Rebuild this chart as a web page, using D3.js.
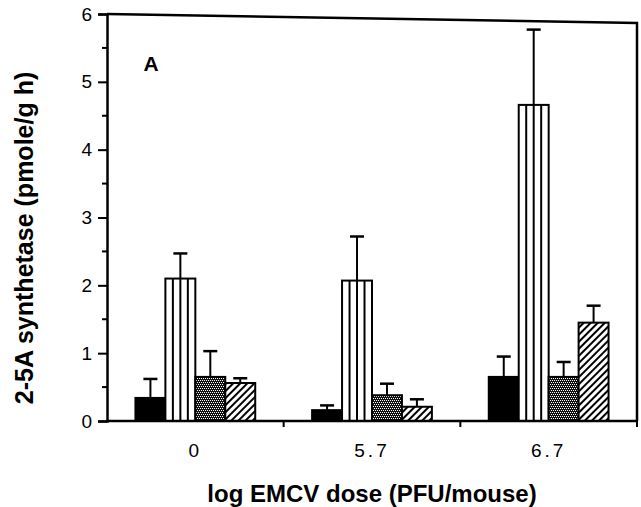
<!DOCTYPE html>
<html>
<head>
<meta charset="utf-8">
<script src="https://d3js.org/d3.v7.min.js"></script>
<style>
    body { margin: 0; background: #fff; }
    text { font-family: "Liberation Sans", Arial, Helvetica, sans-serif; fill: #000; }
</style>
</head>
<body>
<div id="chart"></div>
<script>
// Data (panel A)
var doses = ["0", "5.7", "6.7"];
var series = ["black", "vertical", "dotted", "hatched"];
var means = {
    black:    [0.34, 0.16, 0.65],
    vertical: [2.10, 2.07, 4.66],
    dotted:   [0.65, 0.38, 0.65],
    hatched:  [0.56, 0.21, 1.45]
};
var errTops = {
    black:    [0.62, 0.23, 0.95],
    vertical: [2.47, 2.72, 5.77],
    dotted:   [1.03, 0.55, 0.87],
    hatched:  [0.63, 0.32, 1.70]
};
var yTicks = [0, 1, 2, 3, 4, 5, 6];
var yMinorTicks = [0.5, 1.5, 2.5, 3.5, 4.5, 5.5];

var width = 641, height = 507;
var margin = {top: 14, right: 4, bottom: 86, left: 107};

var svg = d3.select("#chart").append("svg")
    .attr("width", width)
    .attr("height", height);

// Fill patterns
var defs = svg.append("defs");

var dots = defs.append("pattern")
    .attr("id", "dots")
    .attr("patternUnits", "userSpaceOnUse")
    .attr("width", 4).attr("height", 4);
dots.append("rect").attr("width", 4).attr("height", 4).attr("fill", "#111");
[[0, 0], [2, 0], [1, 2], [3, 2]].forEach(function(p) {
    dots.append("rect").attr("x", p[0]).attr("y", p[1])
        .attr("width", 1).attr("height", 1).attr("fill", "#fff");
});

var hatch = defs.append("pattern")
    .attr("id", "hatch")
    .attr("patternUnits", "userSpaceOnUse")
    .attr("width", 5).attr("height", 5)
    .attr("patternTransform", "rotate(45)");
hatch.append("rect").attr("width", 5).attr("height", 5).attr("fill", "#fff");
hatch.append("line")
    .attr("x1", 1).attr("y1", 0).attr("x2", 1).attr("y2", 5)
    .attr("stroke", "#000").attr("stroke-width", 2);

var fills = {black: "#000", vertical: "#fff", dotted: "url(#dots)", hatched: "url(#hatch)"};

// Scales
var x0 = d3.scaleBand()
    .domain(doses)
    .range([margin.left, width - margin.right]);

var x1 = d3.scaleBand()
    .domain(series)
    .range([0, x0.bandwidth()])
    .paddingInner(0)
    .paddingOuter(0.95);

var y = d3.scaleLinear()
    .domain([0, 6])
    .range([height - margin.bottom, margin.top]);

// Flatten to one record per bar
var bars = [];
doses.forEach(function(d, i) {
    series.forEach(function(s) {
        bars.push({dose: d, key: s, v: means[s][i], e: errTops[s][i]});
    });
});

function barMid(d) { return x0(d.dose) + x1(d.key) + x1.bandwidth() / 2; }

// Error bars (drawn first so the bar outline sits on top)
var capW = 14;
var err = svg.append("g").attr("stroke", "#000");
err.selectAll("line.stem")
    .data(bars)
    .enter().append("line")
    .attr("class", "stem")
    .attr("x1", barMid)
    .attr("x2", barMid)
    .attr("y1", function(d) { return y(d.v); })
    .attr("y2", function(d) { return y(d.e); })
    .attr("stroke-width", 2);
err.selectAll("line.cap")
    .data(bars)
    .enter().append("line")
    .attr("class", "cap")
    .attr("x1", function(d) { return barMid(d) - capW / 2; })
    .attr("x2", function(d) { return barMid(d) + capW / 2; })
    .attr("y1", function(d) { return y(d.e); })
    .attr("y2", function(d) { return y(d.e); })
    .attr("stroke-width", 2.5);

// Bars
svg.append("g").selectAll("rect")
    .data(bars)
    .enter().append("rect")
    .attr("x", function(d) { return x0(d.dose) + x1(d.key); })
    .attr("y", function(d) { return y(d.v); })
    .attr("width", x1.bandwidth())
    .attr("height", function(d) { return y(0) - y(d.v); })
    .attr("fill", function(d) { return fills[d.key]; })
    .attr("stroke", "#000")
    .attr("stroke-width", 2);

// Internal lines of the vertically striped bars
var stripes = [];
bars.filter(function(d) { return d.key === "vertical"; }).forEach(function(d) {
    [1, 2, 3].forEach(function(k) { stripes.push({bar: d, k: k}); });
});
svg.append("g").selectAll("line")
    .data(stripes)
    .enter().append("line")
    .attr("x1", function(s) { return x0(s.bar.dose) + x1(s.bar.key) + x1.bandwidth() * s.k / 4; })
    .attr("x2", function(s) { return x0(s.bar.dose) + x1(s.bar.key) + x1.bandwidth() * s.k / 4; })
    .attr("y1", function(s) { return y(s.bar.v); })
    .attr("y2", y(0))
    .attr("stroke", "#000")
    .attr("stroke-width", 2);

// Frame: top and right sides (top edge slightly skewed as in the scan)
var xL = x0.range()[0], xR = x0.range()[1];
svg.append("path")
    .attr("d", "M" + xL + "," + y(6) + "L" + xR + "," + (y(6) + 9) + "L" + xR + "," + y(0))
    .attr("fill", "none")
    .attr("stroke", "#000")
    .attr("stroke-width", 2.5);

// Y axis
var yAxis = d3.axisLeft(y)
    .tickValues(yTicks)
    .tickFormat(d3.format("d"))
    .tickSize(9)
    .tickPadding(6);
var gy = svg.append("g")
    .attr("transform", "translate(" + margin.left + ",0)")
    .call(yAxis);
gy.select(".domain").attr("stroke-width", 2.5);
gy.selectAll(".tick line").attr("stroke-width", 2);
gy.selectAll(".tick text").style("font-size", "19px");

svg.append("g")
    .attr("transform", "translate(" + margin.left + ",0)")
    .selectAll("line")
    .data(yMinorTicks)
    .enter().append("line")
    .attr("x1", -5).attr("x2", 0)
    .attr("y1", function(d) { return y(d); })
    .attr("y2", function(d) { return y(d); })
    .attr("stroke", "#000")
    .attr("stroke-width", 2);

// X axis: ticks at group boundaries, labels at group centres
var gx = svg.append("g")
    .attr("transform", "translate(0," + y(0) + ")");
gx.append("line")
    .attr("x1", xL).attr("x2", xR)
    .attr("stroke", "#000")
    .attr("stroke-width", 2.5);
gx.selectAll("line.tick")
    .data(doses)
    .enter().append("line")
    .attr("class", "tick")
    .attr("x1", function(d) { return x0(d) + x0.bandwidth(); })
    .attr("x2", function(d) { return x0(d) + x0.bandwidth(); })
    .attr("y1", 0).attr("y2", 6)
    .attr("stroke", "#000")
    .attr("stroke-width", 2);
gx.selectAll("text")
    .data(doses)
    .enter().append("text")
    .attr("x", function(d) { return x0(d) + x0.bandwidth() / 2; })
    .attr("y", 36)
    .attr("text-anchor", "middle")
    .style("font-size", "19px")
    .style("letter-spacing", "3px")
    .text(function(d) { return d; });

// Axis titles
svg.append("text")
    .attr("x", (xL + xR) / 2)
    .attr("y", 502)
    .attr("text-anchor", "middle")
    .style("font-size", "24px")
    .style("font-weight", "bold")
    .text("log EMCV dose (PFU/mouse)");

svg.append("text")
    .attr("transform", "translate(33,238) rotate(-90)")
    .attr("text-anchor", "middle")
    .style("font-size", "25px")
    .style("font-weight", "bold")
    .text("2-5A synthetase (pmole/g h)");

// Panel letter
svg.append("text")
    .attr("x", 151)
    .attr("y", 71)
    .attr("text-anchor", "middle")
    .style("font-size", "21px")
    .style("font-weight", "bold")
    .text("A");
</script>
</body>
</html>
